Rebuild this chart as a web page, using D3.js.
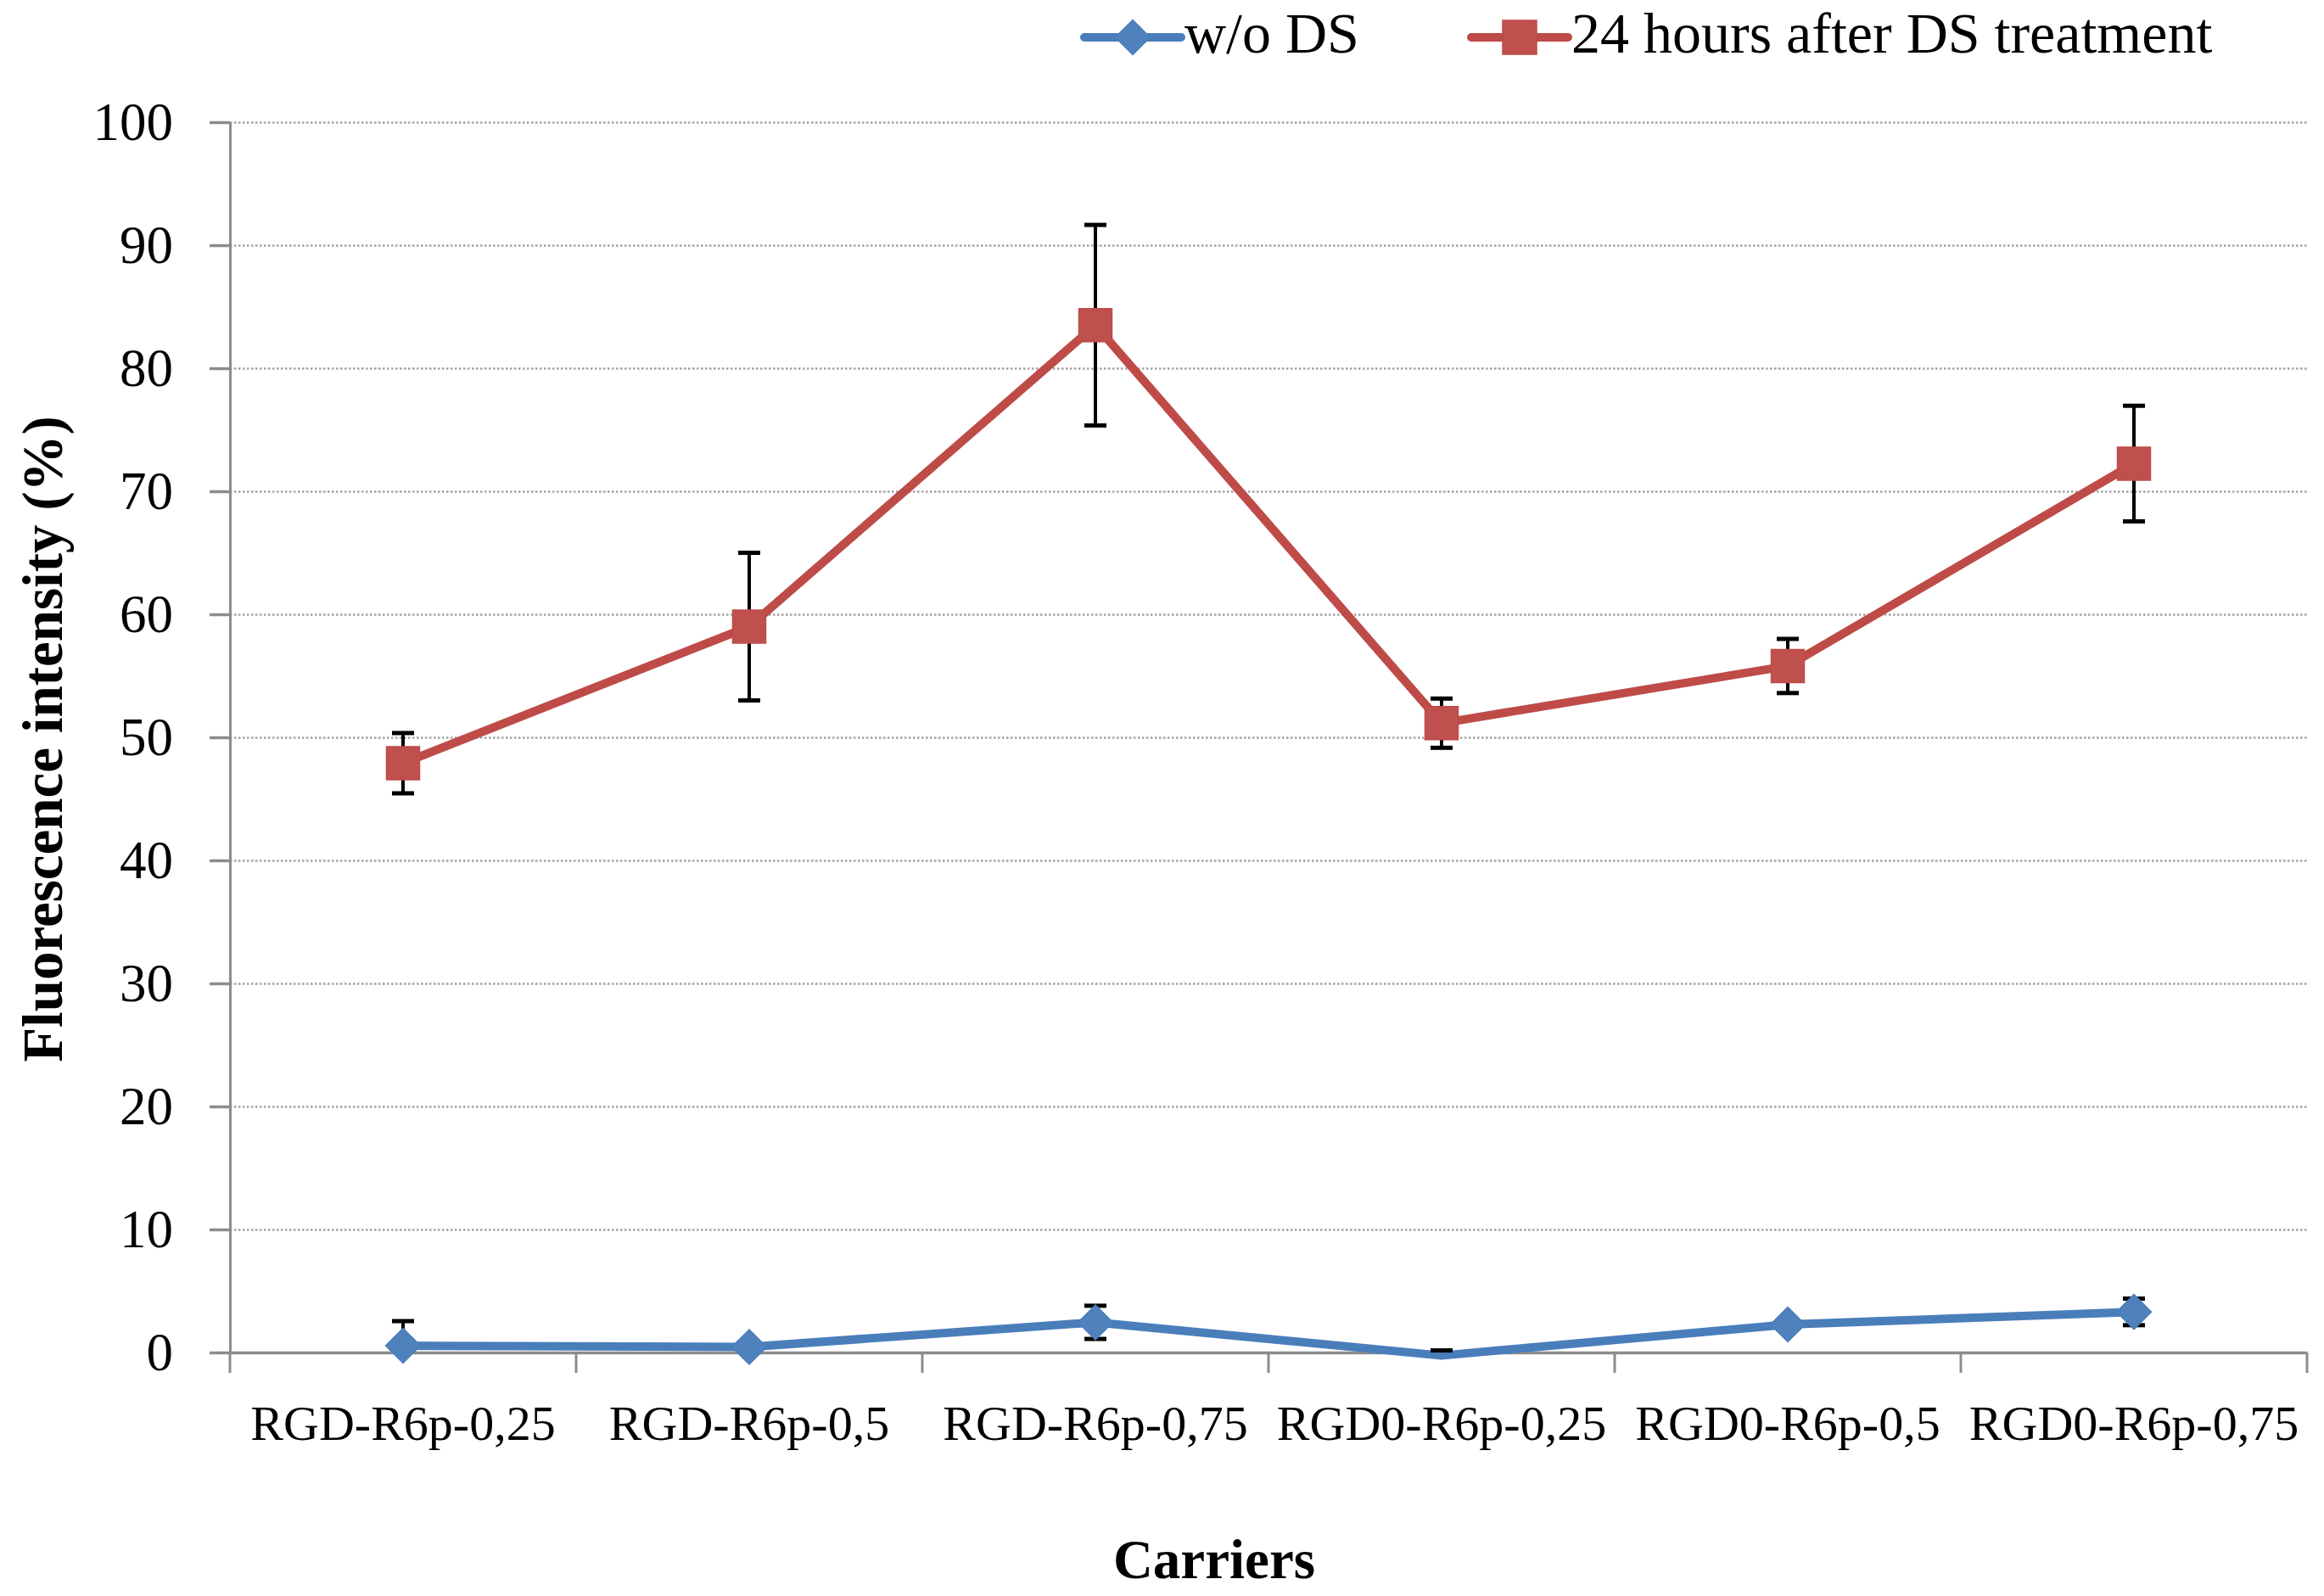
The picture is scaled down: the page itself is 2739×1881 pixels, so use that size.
<!DOCTYPE html>
<html>
<head>
<meta charset="utf-8">
<script src="https://cdn.jsdelivr.net/npm/d3@7"></script>
<style>
  html, body { margin: 0; padding: 0; background: #fff; }
  svg { display: block; }
  text { font-family: "Liberation Serif", "Times New Roman", serif; fill: #000; }
</style>
</head>
<body>
<svg id="chart" width="2739" height="1881"></svg>
<script>
// ---- data ----
const categories = ["RGD-R6p-0,25", "RGD-R6p-0,5", "RGD-R6p-0,75", "RGD0-R6p-0,25", "RGD0-R6p-0,5", "RGD0-R6p-0,75"];
const seriesNames = ["w/o DS", "24 hours after DS treatment"];
const woDS = [0.55, 0.45, 2.45, -0.25, 2.28, 3.3];
const woDSErr = [2.0, 0.3, 1.35, 0.42, 0.4, 1.08];
const after24 = [47.9, 59.0, 83.5, 51.15, 55.8, 72.25];
const after24Err = [2.45, 6.0, 8.15, 2.0, 2.2, 4.7];
const yTicks = [0, 10, 20, 30, 40, 50, 60, 70, 80, 90, 100];
const xTitle = "Carriers";
const yTitle = "Fluorescence intensity (%)";

(function draw() {
// ---- layout ----
const svg = d3.select("#chart");
svg.append("rect").attr("width", 2739).attr("height", 1881).attr("fill", "#fff");
const pLeft = 271, pRight = 2719, pTop = 144, pBottom = 1594;

const x = d3.scaleBand().domain(categories).range([pLeft, pRight]).padding(0);
const y = d3.scaleLinear().domain([0, 100]).range([pBottom, pTop]);

const blue = { line: "#4A7EBB", fill: "#4F81BD" };
const red = { line: "#BE4B48", fill: "#C0504D" };

// gridlines
svg.append("g")
  .attr("transform", `translate(${pLeft},0)`)
  .call(d3.axisLeft(y).tickValues(yTicks).tickSize(-(pRight - pLeft)).tickFormat(""))
  .call(g => g.select(".domain").remove())
  .call(g => g.selectAll(".tick line")
    .attr("stroke", "#a3a3a3").attr("stroke-width", 2.5).attr("stroke-dasharray", "2.5,2.5"));

// y axis
svg.append("g")
  .attr("transform", `translate(${pLeft},0)`)
  .call(d3.axisLeft(y).tickValues(yTicks).tickSize(24).tickSizeOuter(0).tickPadding(43).tickFormat(d3.format("d")))
  .call(g => g.select(".domain").attr("stroke", "#8c8c8c").attr("stroke-width", 3))
  .call(g => g.selectAll(".tick line").attr("stroke", "#8c8c8c").attr("stroke-width", 3.5))
  .call(g => g.selectAll(".tick text")
    .attr("font-family", "'Liberation Serif', serif").attr("font-size", 63).attr("fill", "#000"));

// x axis
const xAxisG = svg.append("g")
  .attr("transform", `translate(0,${pBottom})`)
  .call(d3.axisBottom(x).tickSize(0).tickSizeOuter(0).tickPadding(62))
  .call(g => g.select(".domain").attr("stroke", "#8c8c8c").attr("stroke-width", 3.5))
  .call(g => g.selectAll(".tick text")
    .attr("font-family", "'Liberation Serif', serif").attr("font-size", 58).attr("fill", "#000"));

// category boundary ticks
const boundaries = categories.map(c => x(c)).concat([x.range()[1]]);
xAxisG.selectAll("line.bound").data(boundaries).enter().append("line")
  .attr("class", "bound")
  .attr("x1", d => d).attr("x2", d => d)
  .attr("y1", 0).attr("y2", 24)
  .attr("stroke", "#8c8c8c").attr("stroke-width", 3);

// ---- series ----
const cx = c => x(c) + x.bandwidth() / 2;
const series = [
  { name: seriesNames[0], values: woDS, errs: woDSErr, color: blue, marker: "diamond" },
  { name: seriesNames[1], values: after24, errs: after24Err, color: red, marker: "square" }
];

const lineGen = d3.line().x((d, i) => cx(categories[i])).y(d => y(d));

const diamondPath = (s) => `M0,${-s}L${s},0L0,${s}L${-s},0Z`;
const squarePath = (s) => `M${-s},${-s}H${s}V${s}H${-s}Z`;

series.forEach(s => {
  svg.append("path")
    .datum(s.values)
    .attr("d", lineGen)
    .attr("fill", "none")
    .attr("stroke", s.color.line)
    .attr("stroke-width", 10)
    .attr("stroke-linejoin", "round")
    .attr("stroke-linecap", "round");
});

// error bars (clipped at axis minimum)
series.forEach(s => {
  const g = svg.append("g");
  s.values.forEach((v, i) => {
    const xc = cx(categories[i]);
    const hi = v + s.errs[i];
    const lo = v - s.errs[i];
    const loC = Math.max(lo, 0);
    g.append("line")
      .attr("x1", xc).attr("x2", xc)
      .attr("y1", y(Math.max(hi, 0))).attr("y2", y(loC))
      .attr("stroke", "#000").attr("stroke-width", 4);
    if (hi >= 0) {
      g.append("line")
        .attr("x1", xc - 13).attr("x2", xc + 13)
        .attr("y1", y(hi)).attr("y2", y(hi))
        .attr("stroke", "#000").attr("stroke-width", 5);
    }
    if (lo >= 0) {
      g.append("line")
        .attr("x1", xc - 13).attr("x2", xc + 13)
        .attr("y1", y(lo)).attr("y2", y(lo))
        .attr("stroke", "#000").attr("stroke-width", 5);
    }
  });
});

// markers (hidden outside plot area, as in the source)
series.forEach(s => {
  svg.append("g").selectAll("path")
    .data(s.values.map((v, i) => ({ v, c: categories[i] })).filter(d => d.v >= 0))
    .enter().append("path")
    .attr("transform", d => `translate(${cx(d.c)},${y(d.v)})`)
    .attr("d", s.marker === "diamond" ? diamondPath(20.5) : squarePath(19.5))
    .attr("fill", s.color.fill)
    .attr("stroke", s.color.line)
    .attr("stroke-width", 1.5);
});

// ---- legend ----
const legendItems = [
  { name: seriesNames[0], color: blue, marker: "diamond", x0: 1278, x1: 1392, tx: 1396 },
  { name: seriesNames[1], color: red, marker: "square", x0: 1734, x1: 1848, tx: 1852 }
];
const lg = svg.append("g");
legendItems.forEach(it => {
  lg.append("line")
    .attr("x1", it.x0).attr("x2", it.x1).attr("y1", 44).attr("y2", 44)
    .attr("stroke", it.color.line).attr("stroke-width", 10).attr("stroke-linecap", "round");
  lg.append("path")
    .attr("transform", `translate(${(it.x0 + it.x1) / 2},44)`)
    .attr("d", it.marker === "diamond" ? diamondPath(20.5) : squarePath(20))
    .attr("fill", it.color.fill).attr("stroke", it.color.line).attr("stroke-width", 1.5);
  lg.append("text")
    .attr("x", it.tx).attr("y", 62)
    .attr("font-size", 68)
    .text(it.name);
});

// ---- titles ----
svg.append("text")
  .attr("x", 1431).attr("y", 1860)
  .attr("text-anchor", "middle")
  .attr("font-size", 65).attr("font-weight", "bold")
  .text(xTitle);

svg.append("text")
  .attr("transform", "translate(73,871) rotate(-90)")
  .attr("text-anchor", "middle")
  .attr("font-size", 67).attr("font-weight", "bold")
  .text(yTitle);
})();
</script>
</body>
</html>
